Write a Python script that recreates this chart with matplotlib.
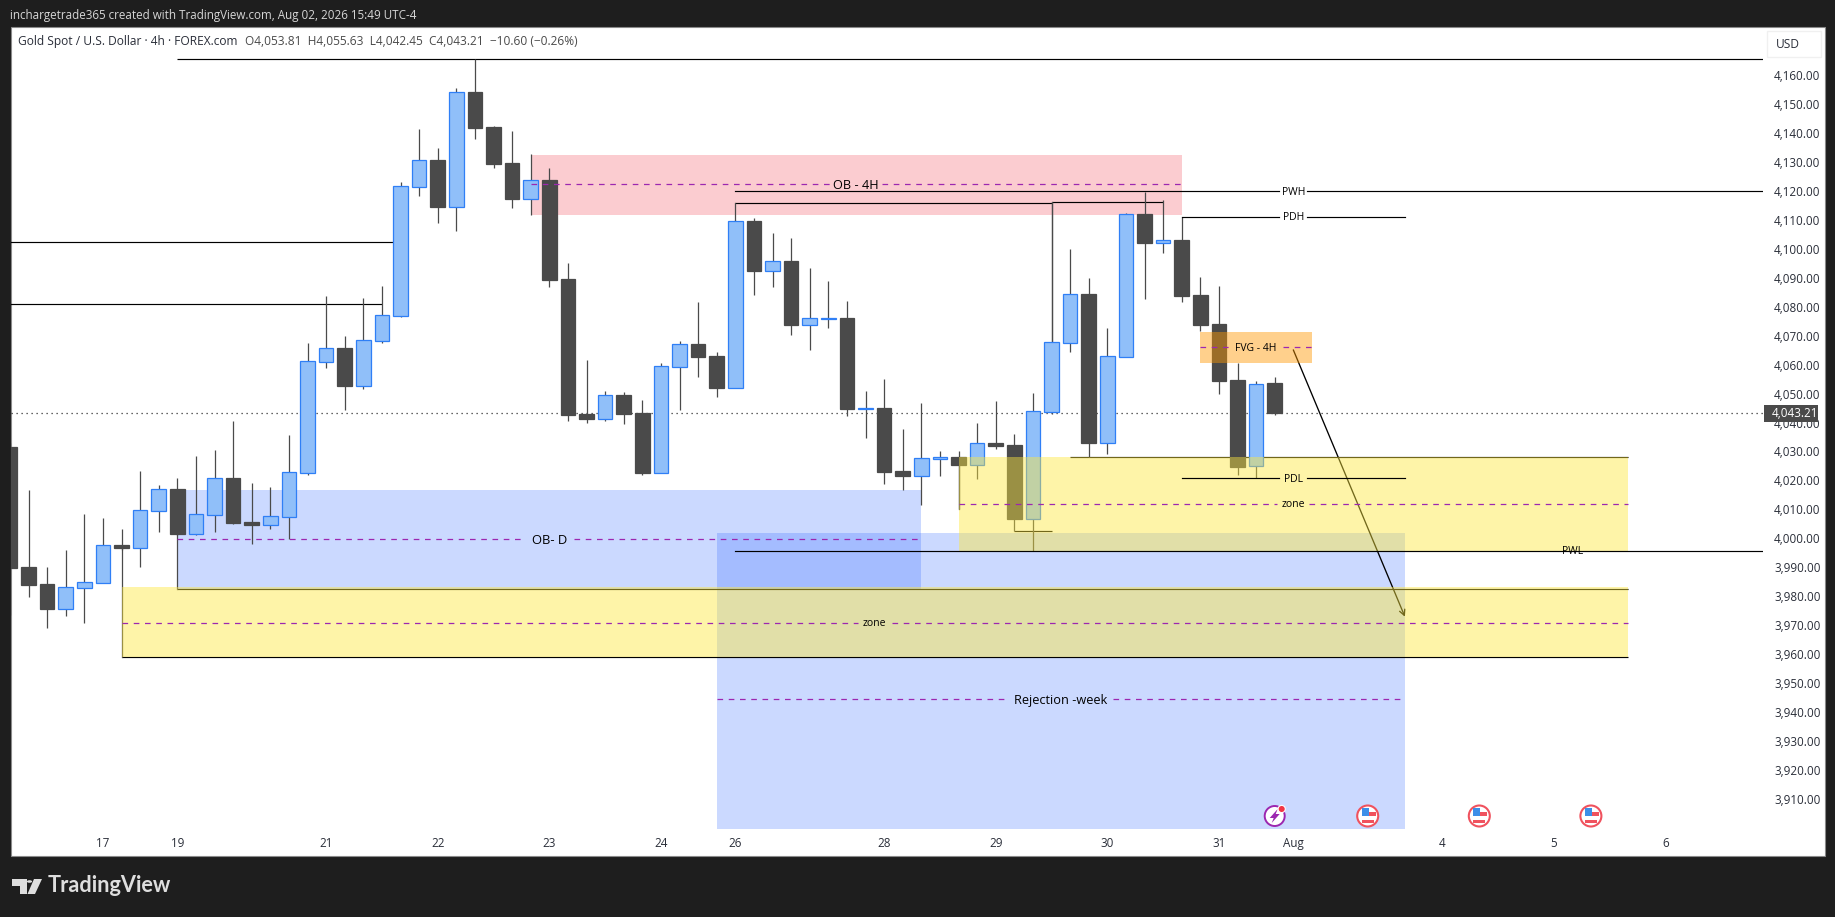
import matplotlib
matplotlib.use("Agg")
import matplotlib.pyplot as plt
from matplotlib.patches import Rectangle, Circle, Polygon

W, H = 1835, 917
FONT = "Open Sans"

# 4h candles
opens = [4031.7, 3990.1, 3984.2, 3975.7, 3982.9, 3984.7, 3997.7, 3996.8, 4009.5, 4017.0,
         4001.6, 4008.2, 4020.8, 4005.6, 4004.7, 4007.5, 4022.7, 4061.0, 4065.8, 4052.7,
         4068.3, 4076.9, 4121.5, 4130.7, 4114.6, 4154.2, 4142.1, 4129.7, 4117.4, 4123.8,
         4089.6, 4042.9, 4041.3, 4049.5, 4043.3, 4022.7, 4059.3, 4067.1, 4063.0, 4052.0,
         4109.6, 4092.5, 4095.8, 4073.8, 4075.8, 4076.1, 4044.6, 4045.0, 4023.2, 4021.6,
         4027.4, 4028.1, 4025.4, 4032.9, 4032.2, 4006.8, 4043.8, 4067.6, 4084.4, 4033.0,
         4062.8, 4112.1, 4102.1, 4103.1, 4084.1, 4074.0, 4054.7, 4024.9, 4053.81]
highs = [4033.0, 4016.7, 3990.1, 3996.0, 4008.4, 4007.0, 4003.2, 4023.2, 4018.4, 4020.8,
         4028.4, 4030.5, 4040.5, 4019.1, 4017.7, 4035.7, 4067.5, 4083.7, 4069.9, 4083.0,
         4087.2, 4123.1, 4141.4, 4134.9, 4155.6, 4165.5, 4142.5, 4140.7, 4132.8, 4127.9,
         4095.1, 4061.6, 4050.9, 4050.5, 4047.8, 4060.6, 4068.2, 4081.6, 4064.4, 4110.0,
         4110.7, 4105.5, 4103.8, 4093.4, 4088.9, 4082.0, 4050.9, 4055.0, 4037.8, 4046.7,
         4030.2, 4030.2, 4039.8, 4047.4, 4036.0, 4050.2, 4116.1, 4100.0, 4089.9, 4072.7,
         4112.4, 4119.8, 4116.9, 4111.1, 4090.3, 4087.2, 4060.6, 4054.3, 4055.63]
lows = [3973.5, 3979.8, 3969.1, 3973.1, 3970.8, 3984.5, 3996.0, 3990.1, 4002.2, 4001.0,
        4001.0, 4002.2, 4005.0, 3998.0, 4003.3, 3999.6, 4021.9, 4058.8, 4044.3, 4051.7,
        4067.6, 4076.6, 4118.3, 4109.1, 4106.3, 4138.1, 4128.1, 4114.1, 4111.7, 4086.9,
        4040.6, 4040.0, 4040.6, 4039.5, 4022.0, 4022.5, 4044.3, 4055.7, 4048.8, 4052.0,
        4084.1, 4086.8, 4070.2, 4065.1, 4072.7, 4042.3, 4034.7, 4018.8, 4016.7, 4011.5,
        4021.5, 4010.1, 4020.5, 4030.9, 4002.4, 3995.5, 4042.9, 4064.4, 4028.0, 4029.1,
        4062.8, 4082.7, 4098.6, 4081.6, 4071.6, 4049.9, 4021.9, 4020.7, 4042.45]
closes = [3989.8, 3984.0, 3975.6, 3983.0, 3984.8, 3997.6, 3996.6, 4009.7, 4016.9, 4001.5,
          4008.3, 4020.7, 4005.3, 4004.6, 4007.6, 4022.8, 4061.1, 4065.6, 4052.6, 4068.4,
          4077.0, 4121.6, 4130.6, 4114.6, 4154.1, 4141.8, 4129.3, 4117.2, 4123.7, 4089.2,
          4042.6, 4041.2, 4049.4, 4042.9, 4022.6, 4059.4, 4067.0, 4062.6, 4051.9, 4109.5,
          4092.4, 4095.7, 4073.7, 4076.0, 4076.0, 4044.7, 4044.9, 4022.9, 4021.5, 4027.6,
          4028.1, 4025.3, 4032.8, 4031.9, 4006.7, 4043.9, 4067.7, 4084.3, 4032.9, 4062.9,
          4111.9, 4102.0, 4103.0, 4083.7, 4073.7, 4054.3, 4024.6, 4053.2, 4043.21]

# time axis
date_ticks = [5, 9, 17, 23, 29, 35, 39, 47, 53, 59, 65, 69, 77, 83, 89]
date_labels = ["17", "19", "21", "22", "23", "24", "26", "28", "29", "30", "31", "Aug", "4", "5", "6"]
price_ticks = list(range(3910, 4170, 10))
last_price = 4043.21

# drawings: (x0, x1, low, high)
ob_daily = (9, 49, 3982.4, 4016.7)
ob_weekly = (38, 75, 3890.0, 4001.8)
ob_4h = (28, 63, 4111.7, 4132.4)
zone_low = (6, 87, 3959.1, 3983.0)
zone_high = (51, 87, 3995.5, 4028.0)
fvg = (64, 70, 4060.6, 4071.3)

# midlines: (x0, x1, price, label, label x, half gap, font size)
midlines = [
    (9, 49, 3999.6, "OB- D", 29, 1.35, 9.4),
    (38, 75, 3944.4, "Rejection -week", 56.5, 2.8, 9.2),
    (28, 63, 4122.3, "OB - 4H", 45.5, 1.4, 9.2),
    (6, 87, 3970.8, "zone", 46.5, 0.9, 7.5),
    (51, 87, 4012.0, "zone", 69, 0.85, 7.5),
    (64, 70, 4066.0, "FVG - 4H", 67, 1.45, 7.5),
]
# level lines: (x0, x1, price, label, label x)
levels = [
    (39, None, 4120.0, "PWH", 69),
    (63, 75, 4111.1, "PDH", 69),
    (63, 75, 4020.7, "PDL", 69),
]
# plain black rays under the zones: (x0, x1, price)
rays = [
    (9, None, 4165.5),
    (0, 20.6, 4102.3),
    (0, 20, 4080.8),
    (39, 56, 4115.7),
    (56, 62, 4116.1),
    (54, 56, 4002.4),
    (9, 87, 3982.4),
    (6, 87, 3959.1),
    (57, 87, 4028.0),
]
pwl_level = (39, None, 3995.5)
# vertical legs: (x, price0, price1)
legs = [(6, 3996.6, 3959.1), (9, 4001.5, 3982.4), (39, 4115.7, 4109.5), (56, 4116.1, 4067.7), (51, 4025.3, 4010.1)]
arrow_from = (69, 4065.1)
arrow_to = (75, 3972.9)
event_bars = [68]
flag_bars = [73, 79, 85]

DARK = "#4a4a4a"
BLUE_FILL = "#90bff9"
BLUE_EDGE = "#2f7ff6"
PURPLE = "#9c27b0"


def fx(px):
    return px / W


def fy(py):
    return 1 - py / H


fig = plt.figure(figsize=(W / 100, H / 100), dpi=100, facecolor="#1e1e1e")
fig.add_artist(Rectangle((fx(10.5), fy(856)), (1825 - 10.5) / W, (856 - 27) / H,
                         transform=fig.transFigure, fc="white", ec="#8a8a8a", lw=0.8, zorder=-5))

ax = fig.add_axes([fx(10.5), fy(829), (1763 - 10.5) / W, (829 - 27) / H])
ax.patch.set_alpha(0)
for s in ax.spines.values():
    s.set_visible(False)

# bar index i sits at 9.9 + 18.6*i pixels
xmin = (10.5 - 9.9) / 18.6
xmax = (1763 - 9.9) / 18.6
ax.set_xlim(xmin, xmax)
ax.set_ylim(4120 - (829 - 191) / 2.894, 4120 + (191 - 27) / 2.894)

ax.yaxis.tick_right()
ax.set_yticks(price_ticks)
ax.set_yticklabels([f"{p:,.2f}" for p in price_ticks], fontsize=8.4, color="#2a2e39", family=FONT)
ax.tick_params(axis="y", length=0, pad=8)
ax.set_xticks(date_ticks)
ax.set_xticklabels(date_labels, fontsize=8.4, color="#2a2e39", family=FONT)
ax.tick_params(axis="x", length=0, pad=6)


def add_rect(box, color, alpha, z):
    ax.add_patch(Rectangle((box[0], box[2]), box[1] - box[0], box[3] - box[2],
                           fc=color, ec="none", alpha=alpha, zorder=z))


# zones under the candles
add_rect(ob_daily, "#2962ff", 0.24, 1)
add_rect(ob_weekly, "#2962ff", 0.24, 1)
add_rect(ob_4h, "#f23645", 0.25, 1)

ax.axhline(last_price, color="#333333", lw=0.9, ls=(0, (1, 3)), zorder=1.5)

for x0, x1, price in rays:
    ax.plot([x0, xmax if x1 is None else x1], [price, price], color="black", lw=0.85, zorder=1.6,
            solid_capstyle="butt")
for x, p0, p1 in legs:
    ax.plot([x, x], [p0, p1], color=DARK, lw=0.9, zorder=1.6)

# candles
for i in range(len(opens)):
    o, h, l, c = opens[i], highs[i], lows[i], closes[i]
    up = c >= o
    ax.plot([i, i], [l, h], color=DARK, lw=0.9, zorder=2, solid_capstyle="butt")
    ax.add_patch(Rectangle((i - 0.39, min(o, c)), 0.78, abs(c - o),
                           fc=BLUE_FILL if up else DARK, ec=BLUE_EDGE if up else DARK,
                           lw=0.9, zorder=2.1))

# projected move, stays under the yellow boxes
ax.annotate("", xy=arrow_to, xytext=arrow_from, zorder=2.5,
            arrowprops=dict(arrowstyle="->", color="black", lw=0.95, shrinkA=0, shrinkB=0,
                            mutation_scale=10))

# these tint the candles
add_rect(zone_low, "#fde73e", 0.45, 3)
add_rect(zone_high, "#fde73e", 0.45, 3)
add_rect(fvg, "#ff9800", 0.45, 3)

# level lines with a break round the label, on top of the yellow
for x0, x1, price, label, lx in levels:
    right = xmax if x1 is None else x1
    ax.plot([x0, lx - 0.75], [price, price], color="black", lw=0.85, zorder=3.5)
    ax.plot([lx + 0.75, right], [price, price], color="black", lw=0.85, zorder=3.5)
    ax.text(lx, price - 0.4, label, fontsize=7.5, ha="center", va="center", family=FONT, zorder=5, color="black")
ax.plot([pwl_level[0], xmax], [pwl_level[2], pwl_level[2]], color="black", lw=0.85, zorder=3.5)
ax.text(84, pwl_level[2] + 0.1, "PWL", fontsize=7.5, ha="center", va="center", family=FONT, zorder=5, color="black")

for x0, x1, price, label, lx, gap, size in midlines:
    ax.plot([x0, lx - gap], [price, price], color=PURPLE, lw=0.9, ls=(0, (4.5, 4.5)), zorder=4)
    ax.plot([lx + gap, x1], [price, price], color=PURPLE, lw=0.9, ls=(0, (4.5, 4.5)), zorder=4)
    ax.text(lx, price - 0.4, label, fontsize=size, ha="center", va="center", family=FONT, zorder=5, color="black")

# last price tag over the scale
ax.add_patch(Rectangle((xmax + 0.04, last_price - 2.9), 2.94, 5.67, fc=DARK, ec="none", clip_on=False, zorder=8))
ax.annotate(f"{last_price:,.2f}", xy=(1, last_price), xycoords=ax.get_yaxis_transform(),
            xytext=(9, 0), textcoords="offset pixels", ha="left", va="center", fontsize=8.4,
            color="white", family=FONT, annotation_clip=False, zorder=9)

# header
fig.text(fx(10), fy(15), "inchargetrade365 created with TradingView.com, Aug 02, 2026 15:49 UTC-4",
         fontsize=8.37, color="#d6d6d6", va="center", family=FONT)
fig.text(fx(18), fy(41.5), "Gold Spot / U.S. Dollar · 4h · FOREX.com", fontsize=8.65, color="#2a2e39",
         va="center", family=FONT)
fig.text(fx(245), fy(41.5), "O4,053.81  H4,055.63  L4,042.45  C4,043.21  −10.60 (−0.26%)", fontsize=8.55,
         color="#4a4a4a", va="center", family=FONT)
fig.add_artist(Rectangle((fx(1767), fy(57)), 54 / W, 26 / H, transform=fig.transFigure,
                         fc="white", ec="#f0f0f0", lw=1, zorder=3))
fig.text(fx(1776), fy(44.5), "USD", fontsize=8.6, color="#2a2e39", va="center", family=FONT, zorder=4)

# logo
logo = [[(12, 879), (27, 879), (27, 894), (20, 894), (20, 886), (12, 886)],
        [(35, 894), (27.5, 894), (34, 879), (42, 879)]]
for pts in logo:
    fig.add_artist(Polygon([(fx(a), fy(b)) for a, b in pts], transform=fig.transFigure, fc="#dedede", ec="none"))
fig.add_artist(Circle((fx(29.5), fy(881.5)), 2.6 / W, transform=fig.transFigure, fc="#dedede", ec="none"))
fig.text(fx(48), fy(886), "TradingView", fontsize=15.7, color="#dedede", va="center", family="Lato", weight="bold")


# economic calendar icons
def bar_px(i):
    return 9.9 + 18.6 * i


def circle_px(cx, cy, r, **kw):
    p = Circle((cx, H - cy), r, **kw)
    p.set_transform(matplotlib.transforms.IdentityTransform())
    fig.add_artist(p)
    p.set_transform(matplotlib.transforms.IdentityTransform())
    return p


for i in event_bars:
    cx = bar_px(i)
    circle_px(cx, 816, 10, fc="white", ec=PURPLE, lw=1.4, zorder=6)
    bolt = [(cx + 3, 809), (cx - 5, 818), (cx - 1, 818), (cx - 3, 823), (cx + 5, 814), (cx + 1, 814)]
    fig.add_artist(Polygon([(fx(a), fy(b)) for a, b in bolt], transform=fig.transFigure, fc=PURPLE, ec="none", zorder=7))
    circle_px(cx + 7, 809, 3.6, fc="#f23645", ec="white", lw=0.8, zorder=8)

for i in flag_bars:
    cx = bar_px(i)
    circle_px(cx, 816, 10.5, fc="white", ec="#f0525e", lw=1.5, zorder=6)
    for y0, y1, col, x0, x1 in [(812, 816, "#f0525e", cx, cx + 8), (820, 823, "#f0525e", cx - 6, cx + 6),
                                (808, 816, "#3d8fe8", cx - 6, cx + 1)]:
        fig.add_artist(Rectangle((fx(x0), fy(y1)), (x1 - x0) / W, (y1 - y0) / H, transform=fig.transFigure,
                                 fc=col, ec="none", zorder=7))

fig.savefig("out.png", dpi=100, facecolor=fig.get_facecolor())
